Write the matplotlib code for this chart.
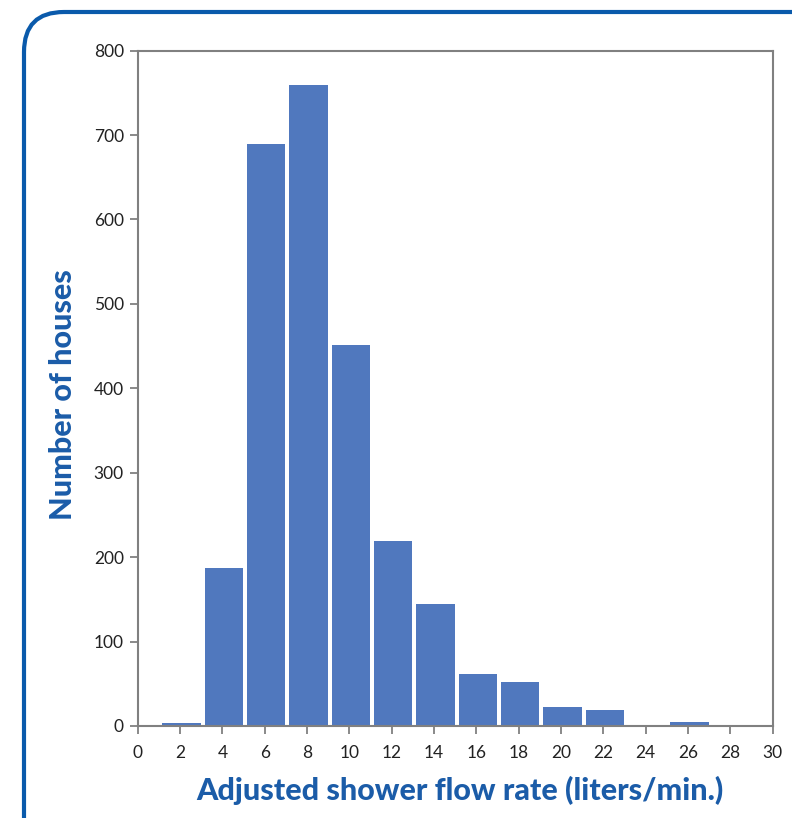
import matplotlib
matplotlib.use("Agg")
import matplotlib.pyplot as plt
from matplotlib.patches import FancyBboxPatch
from matplotlib.transforms import IdentityTransform

# flow-rate bins (liters/min) and counts of houses
flow_rate = [2, 4, 6, 8, 10, 12, 14, 16, 18, 20, 22, 24, 26, 28]
houses = [3, 187, 689, 759, 451, 219, 144, 62, 52, 22, 19, 0, 5, 0]
x_ticks = list(range(0, 31, 2))
y_ticks = list(range(0, 801, 100))

bar_color = "#5078be"
label_color = "#1b5ca8"
axis_gray = "#808080"

fig = plt.figure(figsize=(7.92, 8.18), dpi=100)

# rounded frame around the chart (runs off right and bottom edge)
frame = FancyBboxPatch((24, -60), 840, 818 - 12 + 60,
                       boxstyle="round,pad=0,rounding_size=40",
                       transform=IdentityTransform(), fill=False,
                       edgecolor="#0a5aab", linewidth=3)
fig.patches.append(frame)

ax = fig.add_axes([0.1739, 0.1125, 0.8017, 0.8256])
ax.bar([x + 0.07 for x in flow_rate], houses, width=1.8, color=bar_color)

ax.set_xlim(0, 30)
ax.set_ylim(0, 800)
ax.set_xticks(x_ticks)
ax.set_yticks(y_ticks)

for s in ax.spines.values():
    s.set_color(axis_gray)
    s.set_linewidth(1.5)
ax.tick_params(axis="both", length=6, width=1.3, color=axis_gray,
               labelsize=12.5, labelcolor="#222222")
ax.tick_params(axis="x", pad=8)
ax.tick_params(axis="y", pad=4)
for lbl in ax.get_xticklabels() + ax.get_yticklabels():
    lbl.set_family("Lato")

fig.text(460 / 792, 1 - 790 / 818, "Adjusted shower flow rate (liters/min.)",
         ha="center", va="center", fontsize=22, fontweight="black",
         color=label_color, family="Lato")
fig.text(63 / 792, 1 - 395 / 818, "Number of houses", rotation=90,
         ha="center", va="center", fontsize=22, fontweight="black",
         color=label_color, family="Lato")

fig.savefig("out.png", dpi=100)
